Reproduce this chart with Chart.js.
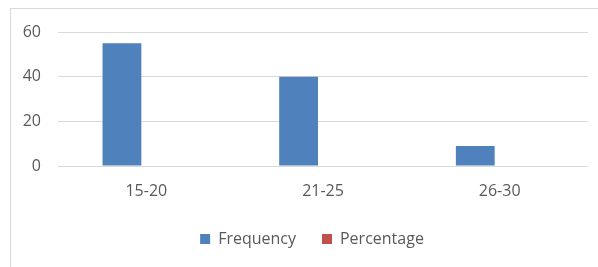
<!DOCTYPE html>
<html>
<head>
<meta charset="utf-8">
<script src="https://cdn.jsdelivr.net/npm/chart.js@4"></script>
<style>
    html, body { margin: 0; padding: 0; background: #fff; overflow: hidden; }
    #frame {
        position: absolute; left: 10px; top: 8px; width: 620px; height: 300px;
        border: 1px solid #d9d9d9; box-sizing: border-box;
    }
    #wrap { position: absolute; left: 0; top: 0; width: 598px; height: 267px; }
</style>
</head>
<body>
<div id="frame"></div>
<div id="wrap"><canvas id="chart"></canvas></div>
<script>
// Chart data
const ageGroups = ['15-20', '21-25', '26-30'];
const frequency = [55, 40, 9];
const percentage = [0, 0, 0];
const yTicks = [0, 20, 40, 60];

const textColor = '#595959';
const gridColor = '#d9d9d9';

Chart.defaults.font.family = '"Open Sans", "Liberation Sans", sans-serif';
Chart.defaults.font.size = 16;
Chart.defaults.color = textColor;

// Legend sits a bit right of the canvas centre in the original
const legendShift = {
    id: 'legendShift',
    afterLayout(chart) {
        chart.legend.left += 18;
        chart.legend.right += 18;
    }
};

const ctx = document.getElementById('chart');

const myChart = new Chart(ctx, {
    type: 'bar',
    data: {
        labels: ageGroups,
        datasets: [
            {
                label: 'Frequency',
                data: frequency,
                backgroundColor: '#4f81bd',
                categoryPercentage: 0.5525,
                barPercentage: 0.795
            },
            {
                label: 'Percentage',
                data: percentage,
                backgroundColor: '#c0504d',
                categoryPercentage: 0.5525,
                barPercentage: 0.795
            }
        ]
    },
    options: {
        responsive: true,
        maintainAspectRatio: false,
        animation: false,
        layout: {
            padding: { left: 0, right: 10, top: 32, bottom: 10 }
        },
        plugins: {
            tooltip: { enabled: false },
            legend: {
                position: 'bottom',
                labels: {
                    boxWidth: 10,
                    boxHeight: 10,
                    padding: 26,
                    color: textColor
                }
            }
        },
        scales: {
            x: {
                grid: { display: false, drawTicks: false },
                border: { display: false },
                ticks: { padding: 16, color: textColor, maxRotation: 0 },
                afterFit: scale => {
                    scale.height = 39;
                }
            },
            y: {
                min: 0,
                max: 60,
                afterBuildTicks: scale => {
                    scale.ticks = yTicks.map(v => ({ value: v }));
                },
                afterFit: scale => {
                    scale.width = 58;
                },
                grid: { color: gridColor, drawTicks: false, lineWidth: 1 },
                border: { display: false },
                ticks: { padding: 17, color: textColor }
            }
        }
    },
    plugins: [legendShift]
});
</script>
</body>
</html>
